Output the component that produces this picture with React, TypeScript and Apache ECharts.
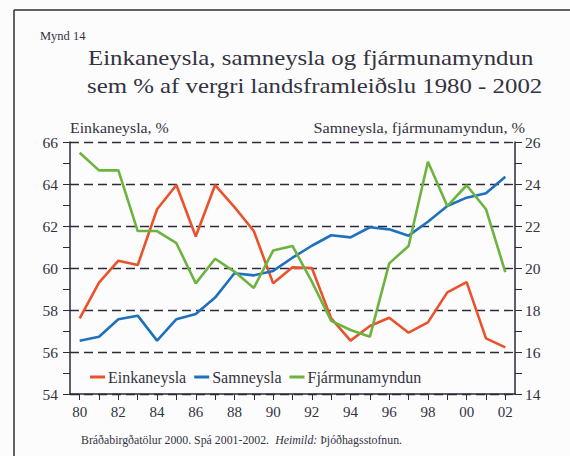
import React, { useEffect, useRef } from "react";
import * as echarts from "echarts";

const years = ["80","81","82","83","84","85","86","87","88","89","90","91","92","93","94","95","96","97","98","99","00","01","02"];
const einkaneysla = [57.6,59.3,60.35,60.14,62.8,63.95,61.5,63.95,62.9,61.76,59.27,60.03,60.0,57.6,56.54,57.24,57.63,56.92,57.41,58.84,59.33,56.65,56.22];
const samneysla = [16.54,16.73,17.56,17.73,16.54,17.56,17.81,18.59,19.75,19.65,19.86,20.49,21.06,21.56,21.46,21.94,21.84,21.54,22.2,22.95,23.35,23.56,24.35];
const fjarmunamyndun = [25.49,24.65,24.65,21.76,21.76,21.18,19.27,20.44,19.83,19.05,20.83,21.05,19.35,17.48,17.05,16.73,20.22,21.05,25.06,22.95,23.94,22.8,19.8];

const seriesNames = ["Einkaneysla", "Samneysla", "Fjármunamyndun"];
const colors = ["#e9522c", "#1f70bd", "#6db33f"];
const textColor = "#33333f";
const axisColor = "#2b2b3a";
const font = "'Liberation Serif', 'Times New Roman', serif";

export default function App() {
  const ref = useRef<HTMLDivElement>(null);
  useEffect(() => {
    if (!ref.current) return;
    const chart = echarts.init(ref.current, null, { renderer: "svg" });
    chart.setOption({
      animation: false,
      backgroundColor: "#fcfcfc",
      textStyle: { fontFamily: font, color: textColor },
      grid: { left: 70, right: 55, top: 142, bottom: 62 },
      legend: {
        left: 85,
        top: 364,
        icon: "rect",
        itemWidth: 15,
        itemHeight: 3,
        itemGap: 8,
        textStyle: { fontFamily: font, fontSize: 16, color: textColor, padding: [0, 0, 0, -2] },
        data: seriesNames,
      },
      xAxis: {
        type: "category",
        data: years,
        boundaryGap: true,
        axisLine: { show: true, lineStyle: { color: axisColor, width: 1.5 } },
        axisTick: { show: true, alignWithLabel: true, interval: 0, length: 6, lineStyle: { color: axisColor, width: 1 } },
        axisLabel: { interval: 1, fontSize: 15, margin: 10, color: textColor, fontFamily: font },
        splitLine: { show: false },
      },
      yAxis: [
        {
          type: "value",
          min: 54,
          max: 66,
          interval: 2,
          position: "left",
          axisLine: { show: true, lineStyle: { color: axisColor, width: 1.5 } },
          axisTick: { show: true, length: 7, lineStyle: { color: axisColor } },
          minorTick: { show: true, splitNumber: 2, length: 7, lineStyle: { color: axisColor } },
          axisLabel: { fontSize: 15.5, margin: 12, color: textColor, fontFamily: font },
          splitLine: { show: true, lineStyle: { color: axisColor, type: [9, 5], width: 1.3 } },
        },
        {
          type: "value",
          min: 14,
          max: 26,
          interval: 2,
          position: "right",
          axisLine: { show: true, lineStyle: { color: axisColor, width: 1.5 } },
          axisTick: { show: true, length: 7, lineStyle: { color: axisColor } },
          minorTick: { show: true, splitNumber: 2, length: 7, lineStyle: { color: axisColor } },
          axisLabel: { fontSize: 15.5, margin: 10, color: textColor, fontFamily: font },
          splitLine: { show: false },
        },
      ],
      series: [
        { name: seriesNames[0], type: "line", yAxisIndex: 0, data: einkaneysla, symbol: "none", color: colors[0], lineStyle: { width: 2.6 } },
        { name: seriesNames[1], type: "line", yAxisIndex: 1, data: samneysla, symbol: "none", color: colors[1], lineStyle: { width: 2.6 } },
        { name: seriesNames[2], type: "line", yAxisIndex: 1, data: fjarmunamyndun, symbol: "none", color: colors[2], lineStyle: { width: 2.6 } },
      ],
      graphic: [
        { type: "line", shape: { x1: 14, y1: 10, x2: 14, y2: 456 }, style: { stroke: "#2f2f2f", lineWidth: 1.5 } },
        { type: "line", shape: { x1: 14, y1: 10, x2: 570, y2: 10 }, style: { stroke: "#2f2f2f", lineWidth: 1.5 } },
        { type: "text", x: 40, y: 36, style: { text: "Mynd 14", font: `12.5px ${font}`, fill: textColor, verticalAlign: "middle" } },
        { type: "text", x: 88, y: 58, scaleX: 1.155, style: { text: "Einkaneysla, samneysla og fjármunamyndun", font: `21.5px ${font}`, fill: textColor, verticalAlign: "middle" } },
        { type: "text", x: 87, y: 86, scaleX: 1.155, style: { text: "sem % af vergri landsframleiðslu 1980 - 2002", font: `21.5px ${font}`, fill: textColor, verticalAlign: "middle" } },
        { type: "text", x: 70, y: 128, scaleX: 1.06, style: { text: "Einkaneysla, %", font: `15px ${font}`, fill: textColor, verticalAlign: "middle" } },
        { type: "text", x: 525, y: 128, scaleX: 1.08, style: { text: "Samneysla, fjármunamyndun, %", font: `15px ${font}`, fill: textColor, align: "right", verticalAlign: "middle" } },
        {
          type: "text",
          x: 81,
          y: 441,
          scaleX: 1.03,
          style: {
            text: "{a|Bráðabirgðatölur 2000. Spá 2001-2002.  }{b|Heimild:}{a| Þjóðhagsstofnun.}",
            rich: {
              a: { fontFamily: font, fontSize: 11.5, fill: textColor, color: textColor },
              b: { fontFamily: font, fontSize: 11.5, fontStyle: "italic", fill: textColor, color: textColor },
            },
            verticalAlign: "middle",
          },
        },
      ],
    });
    return () => chart.dispose();
  }, []);
  return <div ref={ref} style={{ position: "fixed", left: 0, top: 0, width: 570, height: 456 }} />;
}
